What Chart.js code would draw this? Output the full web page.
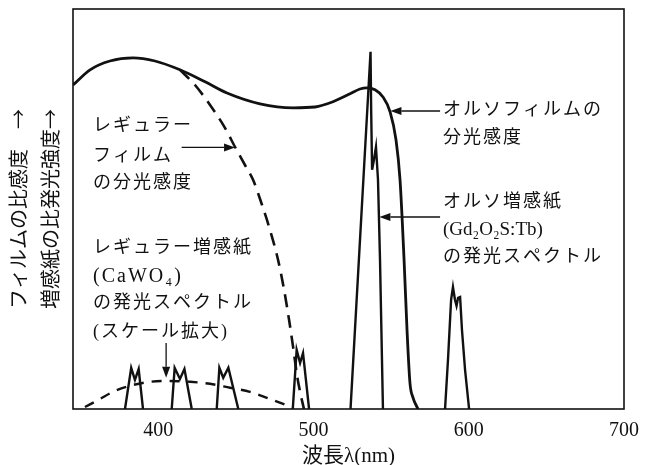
<!DOCTYPE html>
<html>
<head>
<meta charset="utf-8">
<script src="https://cdn.jsdelivr.net/npm/chart.js@4"></script>
<style>
  html, body { margin: 0; padding: 0; background: #fff; }
</style>
</head>
<body>
<canvas id="myChart" width="652" height="465"></canvas>
<script>
// wavelength in nm, relative value 0-100
const orthoFilmNm  = [345, 356, 368.8, 383.7, 397.8, 413.9, 430.1, 444.2, 465.5, 486.8, 500.9, 512.5, 523.5, 529.9, 534.4, 539.6, 544.7, 549.3, 553.1, 555.7, 558.3, 560.2, 562.1, 564.1, 567.3];
const orthoFilmVal = [81.0, 84.8, 87.0, 87.8, 87.0, 84.8, 81.8, 79.0, 76.3, 75.3, 75.5, 76.8, 78.8, 80.0, 80.3, 79.8, 78.0, 74.3, 67.3, 57.3, 37.3, 19.8, 6.5, 2.8, 0];

const regularFilmNm  = [413.9, 423.6, 433.3, 442.9, 449.4, 455.8, 461.0, 466.8, 471.9, 477.1, 481.0, 484.2, 486.8, 489.3, 491.3, 493.8];
const regularFilmVal = [84.8, 81.0, 76.0, 70.3, 65.5, 61.0, 57.3, 51.0, 44.8, 37.3, 29.8, 22.3, 15.5, 8.5, 4.3, 0];

// CaWO4 envelope (scale enlarged)
const caBroadNm  = [352.7, 362.4, 370.8, 381.7, 394.6, 407.5, 420.4, 433.3, 446.2, 459.0, 471.9, 486.8];
const caBroadVal = [0.5, 2.5, 4.3, 5.8, 6.8, 7.0, 6.8, 6.3, 5.3, 4.3, 2.5, 0.3];

// CaWO4 lines, null = gap
const caLinesNm  = [378.5, 382.5, 384.9, 387.3, 390.1, 395, 408.6, 410.5, 413.9, 416.8, 421.5, 430, 437.6, 439.3, 441.8, 445.1, 451.5, 470, 486.6, 489.1, 491.3, 493.2, 497.1];
const caLinesVal = [0, 10.3, 7.3, 10.0, 0, null, 0, 10.3, 7.5, 10.0, 0, null, 0, 10.3, 7.8, 10.3, 0, null, 0, 14.8, 11.5, 14.0, 0];

// Gd2O2S:Tb lines
const gdLinesNm  = [523.8, 536.7, 537.1, 537.7, 538.9, 540.2, 541.5, 542.8, 544.7, 560, 584.7, 586.6, 588.6, 589.8, 591.1, 592.1, 593.1, 594.4, 595.6, 597.6, 600.2];
const gdLinesVal = [0, 89.3, 74.8, 59.8, 62.3, 65.5, 57.3, 37.3, 0, null, 0, 12.3, 27.3, 30.5, 27.3, 25.8, 27.8, 28.0, 19.8, 9.8, 0];

const xTicks = [400, 500, 600, 700];

// text lines: [text, font size, letter spacing]
const notes = [
    { x: 583.4, y: [74.8, 67.8], lines: [['オルソフィルムの', 18, 2], ['分光感度', 18, 2]] },
    { x: 583.4, y: [51.8, 44.8, 38.0], lines: [['オルソ増感紙', 18, 2], ['(Gd₂O₂S:Tb)', 19, 0], ['の発光スペクトル', 18, 2]] },
    { x: 357.9, y: [70.6, 63.1, 56.4], lines: [['レギュラー', 18, 2], ['フィルム', 18, 2], ['の分光感度', 18, 2]] },
    { x: 357.9, y: [40.3, 33.1, 26.5, 19.3], lines: [['レギュラー増感紙', 18, 2], ['(CaWO₄)', 20, 2], ['の発光スペクトル', 18, 2], ['(スケール拡大)', 18, 2]] }
];
const arrows = [
    { from: [581.5, 74.5], to: [549.5, 74.5] },
    { from: [581.5, 48.0], to: [542.4, 48.0] },
    { from: [415, 65.4], to: [449.4, 65.4] },
    { from: [405, 16.5], to: [405, 7.8] }
];

function pts(xs, ys) {
    return xs.map(function(v, i) { return { x: v, y: ys[i] }; });
}

function drawArrow(ctx, x1, y1, x2, y2) {
    const ang = Math.atan2(y2 - y1, x2 - x1);
    const len = 11, half = 4;
    const bx = x2 - Math.cos(ang) * len, by = y2 - Math.sin(ang) * len;
    ctx.beginPath();
    ctx.moveTo(x1, y1);
    ctx.lineTo(bx, by);
    ctx.stroke();
    ctx.beginPath();
    ctx.moveTo(x2, y2);
    ctx.lineTo(bx + half * Math.sin(ang), by - half * Math.cos(ang));
    ctx.lineTo(bx - half * Math.sin(ang), by + half * Math.cos(ang));
    ctx.closePath();
    ctx.fill();
}

const annotate = {
    id: 'annotate',
    afterDatasetsDraw(chart) {
        const ctx = chart.ctx;
        const a = chart.chartArea;
        const x = chart.scales.x, y = chart.scales.y;
        ctx.save();
        ctx.strokeStyle = '#111';
        ctx.lineWidth = 1.6;
        ctx.strokeRect(a.left, a.top, a.right - a.left, a.bottom - a.top);

        ctx.fillStyle = '#111';
        ctx.textBaseline = 'middle';
        ctx.textAlign = 'left';
        notes.forEach(function(n) {
            n.lines.forEach(function(l, i) {
                ctx.font = l[1] + 'px "Liberation Serif", "Noto Sans CJK JP"';
                ctx.letterSpacing = l[2] + 'px';
                ctx.fillText(l[0], x.getPixelForValue(n.x), y.getPixelForValue(n.y[i]));
            });
        });
        ctx.letterSpacing = '0px';

        ctx.lineWidth = 1.3;
        arrows.forEach(function(ar) {
            drawArrow(ctx,
                x.getPixelForValue(ar.from[0]), y.getPixelForValue(ar.from[1]),
                x.getPixelForValue(ar.to[0]), y.getPixelForValue(ar.to[1]));
        });
        ctx.restore();
    }
};

const solid = { borderColor: '#111', pointRadius: 0, showLine: true, fill: false };

const ctx = document.getElementById('myChart');
const myChart = new Chart(ctx, {
    type: 'scatter',
    data: {
        datasets: [
            Object.assign({ label: 'ortho film', data: pts(orthoFilmNm, orthoFilmVal), borderWidth: 2.8, cubicInterpolationMode: 'monotone' }, solid),
            Object.assign({ label: 'regular film', data: pts(regularFilmNm, regularFilmVal), borderWidth: 2.6, borderDash: [13, 8], cubicInterpolationMode: 'monotone' }, solid),
            Object.assign({ label: 'CaWO4 envelope', data: pts(caBroadNm, caBroadVal), borderWidth: 2.4, borderDash: [10, 8], cubicInterpolationMode: 'monotone' }, solid),
            Object.assign({ label: 'CaWO4 lines', data: pts(caLinesNm, caLinesVal), borderWidth: 2.4, tension: 0, spanGaps: false }, solid),
            Object.assign({ label: 'Gd2O2S:Tb lines', data: pts(gdLinesNm, gdLinesVal), borderWidth: 2.4, tension: 0, spanGaps: false }, solid)
        ]
    },
    options: {
        responsive: false,
        animation: false,
        layout: { padding: { left: 0, top: 9, right: 28, bottom: 0 } },
        plugins: { legend: { display: false }, tooltip: { enabled: false } },
        scales: {
            x: {
                type: 'linear',
                min: 345,
                max: 700,
                afterBuildTicks: function(axis) {
                    axis.ticks = xTicks.map(function(v) { return { value: v }; });
                },
                afterFit: function(axis) {
                    axis.height = 56;
                },
                grid: { display: false, drawTicks: false },
                border: { display: false },
                ticks: {
                    color: '#111',
                    padding: 10,
                    font: { family: '"Liberation Serif"', size: 20 }
                },
                title: {
                    display: true,
                    text: '波長λ(nm)',
                    color: '#111',
                    padding: { top: 9, bottom: 0 },
                    font: { family: '"Liberation Serif", "Noto Sans CJK JP"', size: 21, lineHeight: 0.8 }
                }
            },
            y: {
                min: 0,
                max: 100,
                grid: { display: false, drawTicks: false },
                border: { display: false },
                ticks: { display: false },
                title: {
                    display: true,
                    text: ['フィルムの比感度　→', '増感紙の比発光強度→'],
                    color: '#111',
                    padding: { top: 2, bottom: 7 },
                    font: { family: '"Noto Sans CJK JP"', size: 20, lineHeight: '32px' }
                }
            }
        }
    },
    plugins: [annotate]
});
</script>
</body>
</html>
